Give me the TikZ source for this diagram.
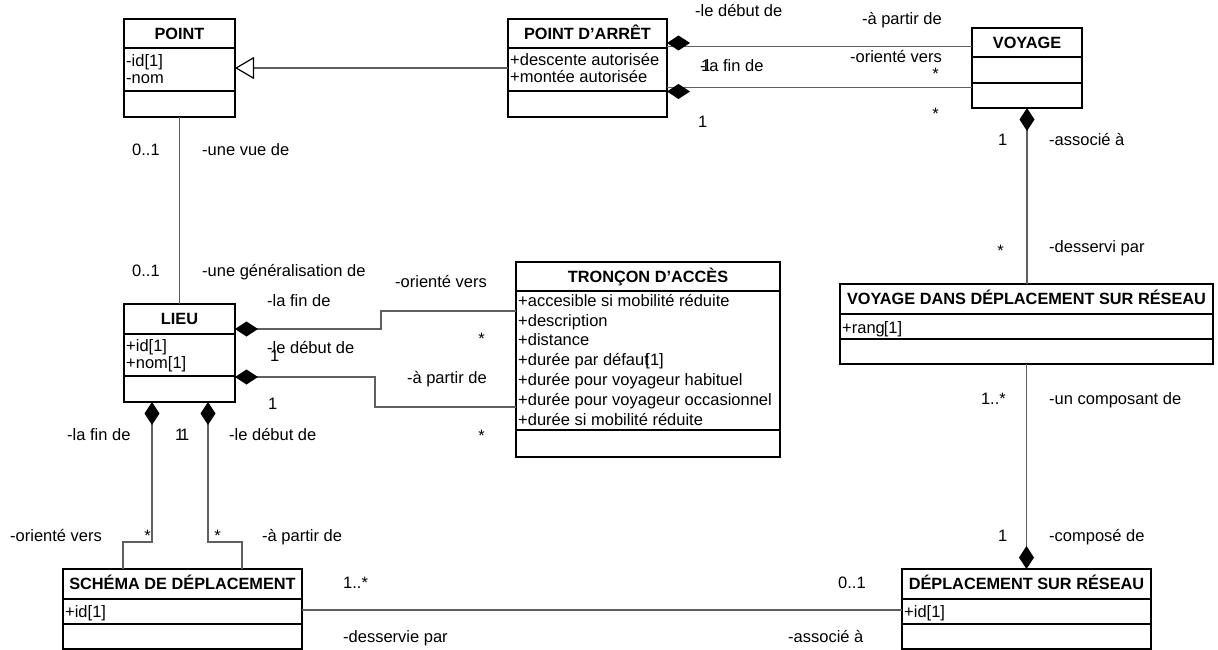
\documentclass[tikz,border=0pt]{standalone}
\usepackage{fontspec}
\setmainfont{Liberation Sans}
\usetikzlibrary{arrows.meta,calc,shapes.geometric}
\definecolor{linkgray}{RGB}{95,95,95}

% UML class: name, x1, y1, x2, y2, first divider, second divider, title
\newcommand\umlclass[8]{%
  \node[box, minimum width={(#4-#2)*1pt}, minimum height={(#5-#3)*1pt}] (#1) at (#2,#3) {};
  \draw[sep] (#2,#6) -- (#4,#6) (#2,#7) -- (#4,#7);
  \node[ttl] (#1-t) at ({(#2+#4)/2},{#3+20.5}) {#8};
}
\newcommand\apos{\char"27\relax}

\begin{document}
\begin{tikzpicture}[x=1pt,y=-1pt,
  box/.style={draw=black, line width=1.2pt, inner sep=0pt, outer sep=0pt, anchor=north west},
  sep/.style={line width=1.2pt, black},
  conn/.style={draw=linkgray, line width=1.4pt},
  txt/.style={inner sep=0pt, font=\fontsize{16.5}{19.9}\selectfont},
  lw/.style={txt, anchor=base west},
  le/.style={txt, anchor=base east},
  ttl/.style={inner sep=0pt, anchor=base, font=\fontsize{16.3}{19}\selectfont\bfseries},
  comp/.style={{Diamond[length=23pt,width=15pt,black,fill=black]}-},
  diam/.style={diamond, fill=black, inner sep=0pt, outer sep=0pt,
    minimum width=23pt, minimum height=15pt, anchor=west},
  gen/.style={{Triangle[length=19pt,width=22pt,black,fill=white,line width=1.2pt]}-},
]
\fill[white] (0,0) rectangle (1218,650);
\useasboundingbox (0,0) rectangle (1218,650);

% ---- classes ----
\umlclass{point}{124}{19}{235}{117}{48}{91}{POINT}
\node[lw] (point-a1) at (126,66.7) {-id[1]};
\node[lw] (point-a2) at (126,84) {-nom};

\umlclass{arret}{508}{19}{667}{117}{48}{91}{POINT D\apos ARRÊT}
\node[lw] (arret-a1) at (510,66) {+descente autorisée};
\node[lw] (arret-a2) at (510,83) {+montée autorisée};

\umlclass{voyage}{972}{28}{1082}{108}{57}{83}{VOYAGE}

\umlclass{lieu}{124}{304}{235}{402}{334}{376}{LIEU}
\node[lw] (lieu-a1) at (126,351) {+id[1]};
\node[lw] (lieu-a2) at (126,368) {+nom[1]};

\umlclass{tron}{516}{262}{780}{457}{291}{430}{TRONÇON D\apos ACCÈS}
\node[lw] (tron-a1) at (518,306) {+accesible si mobilité réduite};
\node[lw] (tron-a2) at (518,326) {+description};
\node[lw] (tron-a3) at (518,345) {+distance};
\node[lw] (tron-a4) at (518,365) {+durée par défaut\kern-3.5pt[1]};
\node[lw] (tron-a5) at (518,385) {+durée pour voyageur habituel};
\node[lw] (tron-a6) at (518,405) {+durée pour voyageur occasionnel};
\node[lw] (tron-a7) at (518,425) {+durée si mobilité réduite};

\umlclass{vdd}{840}{284}{1213}{364}{314}{339}{VOYAGE DANS DÉPLACEMENT SUR RÉSEAU}
\node[lw] (vdd-a1) at (842,333) {+rang\kern-1pt[1]};

\umlclass{schema}{63}{569}{302}{649}{599}{624}{SCHÉMA DE DÉPLACEMENT}
\node[lw] (schema-a1) at (65,617) {+id[1]};

\umlclass{dep}{902}{569}{1151}{649}{599}{624}{DÉPLACEMENT SUR RÉSEAU}
\node[lw] (dep-a1) at (904,617) {+id[1]};

% ---- connectors ----
\draw[conn, gen] (point.east |- 0,68) -- (arret.west |- 0,68);
\draw[conn] (point.south) -- (lieu.north);
\draw[conn] (arret.east |- 0,46.7) -- (voyage.west |- 0,46.7);
\node[diam] (arret-d1) at (arret.east |- 0,43) {};
\draw[conn] (arret.east |- 0,87.5) -- (voyage.west |- 0,87.5);
\node[diam] (arret-d2) at (arret.east |- 0,91.5) {};
\draw[conn, comp] (voyage.south) -- (voyage.south |- vdd.north);
\draw[conn, comp] (dep.north) -- (dep.north |- vdd.south);
\draw[conn, comp] (lieu.east |- 0,329) -- ++(146,0) |- (tron.west |- 0,311);
\draw[conn, comp] (lieu.east |- 0,377) -- ++(140,0) |- (tron.west |- 0,407);
\draw[conn, comp] (lieu.south -| 152,0) -- ++(0,140) -| (schema.north -| 123,0);
\draw[conn, comp] (lieu.south -| 208,0) -- ++(0,140) -| (schema.north -| 242,0);
\draw[conn] (schema.east |- 0,610) -- (dep.west |- 0,610);

% ---- role names and multiplicities ----
\node[lw] (m1) at (132,155) {0..1};
\node[lw] (r1) at (202,155) {-une vue de};
\node[lw] (m2) at (132,276) {0..1};
\node[lw] (r2) at (202,276) {-une généralisation de};

\node[lw] (r3) at (695,17) {-le début de};
\node[le] (r4) at (942,25) {-à partir de};
\node[le] (r5) at (942,63) {-orienté vers};
\node[le] (m3) at (939,80) {*};
\node[lw] (m4) at (701,72) {1};
\node[lw] (r6) at (700,72) {-la fin de};
\node[lw] (m5) at (698,128) {1};
\node[le] (m6) at (939,119.5) {*};

\node[lw] (m7) at (998,146) {1};
\node[lw] (r7) at (1049,146) {-associé à};
\node[le] (m8) at (1004,256) {*};
\node[lw] (r8) at (1049,252) {-desservi par};
\node[le] (m9) at (1006,404) {1..*};
\node[lw] (r9) at (1049,404) {-un composant de};
\node[lw] (m10) at (998,541) {1};
\node[lw] (r10) at (1049,541) {-composé de};

\node[lw] (r11) at (395,287) {-orienté vers};
\node[lw] (r12) at (267,306) {-la fin de};
\node[le] (m11) at (485,344.5) {*};
\node[lw] (r13) at (267,353) {-le début de};
\node[lw] (m12) at (270,361) {1};
\node[le] (r14) at (487,383) {-à partir de};
\node[lw] (m13) at (268,409) {1};
\node[le] (m14) at (485,441) {*};

\node[lw] (r15) at (67,440) {-la fin de};
\node[lw] (m15) at (175,440) {1};
\node[lw] (m16) at (180,440) {1};
\node[lw] (r16) at (229,440) {-le début de};

\node[lw] (r17) at (10,541) {-orienté vers};
\node[le] (m17) at (151,541) {*};
\node[le] (m18) at (221,541) {*};
\node[lw] (r18) at (262,541) {-à partir de};

\node[lw] (m19) at (343,588) {1..*};
\node[lw] (r19) at (343,642) {-desservie par};
\node[lw] (m20) at (838,588) {0..1};
\node[lw] (r20) at (788,642) {-associé à};
\end{tikzpicture}
\end{document}
